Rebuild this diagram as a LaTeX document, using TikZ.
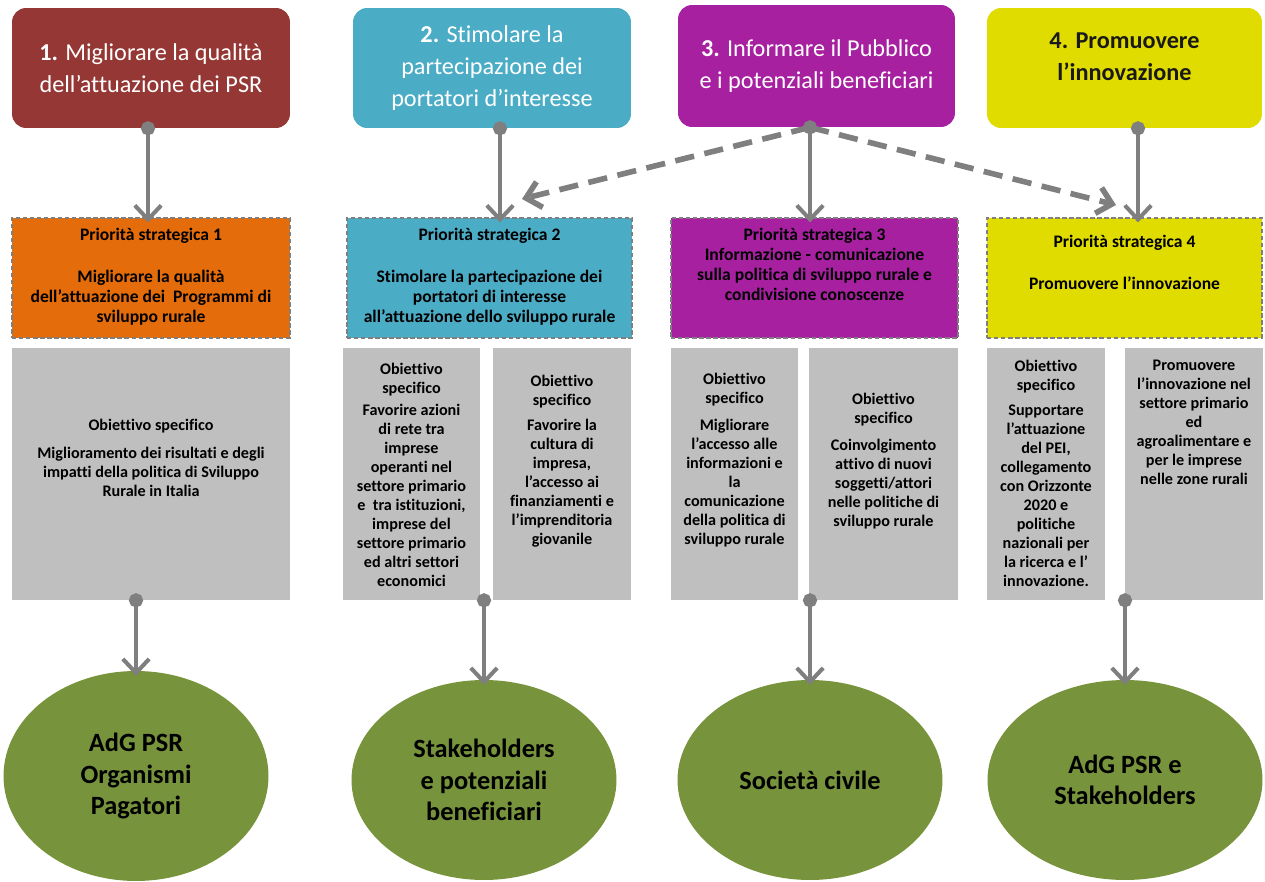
\documentclass[tikz,border=0pt]{standalone}
\usepackage{fontspec}
\setmainfont{Carlito}[Ligatures=NoCommon]
\usetikzlibrary{arrows.meta,shapes.geometric,calc}
\definecolor{adgred}{HTML}{953735}
\definecolor{aqua}{HTML}{4BACC6}
\definecolor{infopurple}{HTML}{A620A0}
\definecolor{innoyellow}{HTML}{E1DC00}
\definecolor{prioorange}{HTML}{E46C0A}
\definecolor{objgrey}{HTML}{BFBFBF}
\definecolor{linkgrey}{HTML}{7F7F7F}
\definecolor{targetgreen}{HTML}{77933C}

\begin{document}
\begin{tikzpicture}[x=0.02cm,y=-0.02cm,
	topbox/.style={rounded corners=8pt,minimum height=2.4cm,align=center,text=white,font=\fontsize{13.8}{18}\selectfont},
	prio/.style={draw=linkgrey,line width=1pt,dash pattern=on 2.5pt off 1.5pt,minimum height=2.4cm},
	priotext/.style={anchor=north,inner sep=0pt,align=center,font=\bfseries\fontsize{10}{11.3}\selectfont},
	obj/.style={fill=objgrey,minimum height=5.04cm},
	small/.style={anchor=north,inner sep=0pt,align=center,font=\bfseries\fontsize{9.2}{10.8}\selectfont},
	target/.style={ellipse,fill=targetgreen,inner sep=0pt,minimum width=5.3cm,minimum height=4cm,align=center,font=\bfseries\fontsize{15}{18}\selectfont},
	link/.style={draw=linkgrey,line width=2.3pt,shorten <=-4pt,shorten >=-3pt,{Circle[length=8pt]}-{Straight Barb[length=8pt,width=15pt]}},
	hint/.style={draw=linkgrey,line width=3.2pt,dash pattern=on 11pt off 6pt,-{Straight Barb[length=8pt,width=15pt]}}]
	\useasboundingbox (0,0) rectangle (1265,882);

	\node[topbox,fill=adgred,minimum width=5.56cm] (t1) at (151,68) {\textbf{1.} Migliorare la qualità\\dell’attuazione dei PSR};
	\node[topbox,fill=aqua,minimum width=5.56cm] (t2) at (492,68) {\textbf{2.} Stimolare la\\partecipazione dei\\portatori d’interesse};
	\node[topbox,fill=infopurple,minimum width=5.54cm,minimum height=2.44cm] (t3) at (816.5,66) {\textbf{3.} Informare il Pubblico\\e i potenziali beneficiari};
	\node[topbox,fill=innoyellow,minimum width=5.5cm] (t4) at (1124.5,68) {};
	\node[align=center,font=\bfseries\fontsize{13.8}{18}\selectfont,text=black!90] (t4t) at ($(t4.center)+(0,-11)$) {4. Promuovere\\l’innovazione};

	\node[prio,fill=prioorange,minimum width=5.56cm] (p1) at (151,278) {};
	\node[prio,fill=aqua,minimum width=5.7cm] (p2) at (489.5,278) {};
	\node[prio,fill=infopurple,minimum width=5.74cm] (p3) at (814.5,278) {};
	\node[prio,fill=innoyellow,minimum width=5.5cm] (p4) at (1124.5,278) {};
	\node[priotext] (p1t) at ($(p1.north)+(0,11)$) {Priorità strategica 1\\[12.5pt]Migliorare la qualità\\dell’attuazione dei~ Programmi di\\sviluppo rurale};
	\node[priotext] (p2t) at ($(p2.north)+(0,11)$) {Priorità strategica 2\\[12.5pt]Stimolare la partecipazione dei\\portatori di interesse\\all’attuazione dello sviluppo rurale};
	\node[priotext] (p3t) at ($(p3.north)+(0,11)$) {Priorità strategica 3\\Informazione - comunicazione\\sulla politica di sviluppo rurale e\\condivisione conoscenze};
	\node[priotext] (p4t) at ($(p4.north)+(0,18)$) {Priorità strategica 4\\[12.5pt]Promuovere l’innovazione};

	\node[obj,minimum width=5.56cm] (g1) at (151,474) {};
	\node[obj,minimum width=2.74cm] (g2a) at (411.5,474) {};
	\node[obj,minimum width=2.76cm] (g2b) at (562,474) {};
	\node[obj,minimum width=2.54cm] (g3a) at (734.5,474) {};
	\node[obj,minimum width=2.98cm] (g3b) at (883.5,474) {};
	\node[obj,minimum width=2.36cm] (g4a) at (1046,474) {};
	\node[obj,minimum width=2.76cm] (g4b) at (1194,474) {};
	\node[small] (g1t) at ($(g1.north)+(0,71)$) {Obiettivo specifico\\[5pt]Miglioramento dei risultati e degli\\impatti della politica di Sviluppo\\Rurale in Italia};
	\node[small] (g2at) at ($(g2a.north)+(0,15)$) {Obiettivo\\specifico\\[2pt]Favorire azioni\\di rete tra\\imprese\\operanti nel\\settore primario\\e~ tra istituzioni,\\imprese del\\settore primario\\ed altri settori\\economici};
	\node[small] (g2bt) at ($(g2b.north)+(0,27)$) {Obiettivo\\specifico\\[3.5pt]Favorire la\\cultura di\\impresa,\\l’accesso ai\\finanziamenti e\\l’imprenditoria\\giovanile};
	\node[small] (g3at) at ($(g3a.north)+(0,25)$) {Obiettivo\\specifico\\[4.5pt]Migliorare\\l’accesso alle\\informazioni e\\la\\comunicazione\\della politica di\\sviluppo rurale};
	\node[small] (g3bt) at ($(g3b.north)+(0,45)$) {Obiettivo\\specifico\\[4.5pt]Coinvolgimento\\attivo di nuovi\\soggetti/attori\\nelle politiche di\\sviluppo rurale};
	\node[small] (g4at) at ($(g4a.north)+(0,12)$) {Obiettivo\\specifico\\[3.5pt]Supportare\\l’attuazione\\del PEI,\\collegamento\\con Orizzonte\\2020 e\\politiche\\nazionali per\\la ricerca e l’\\innovazione.};
	\node[small] (g4bt) at ($(g4b.north)+(0,12)$) {Promuovere\\l’innovazione nel\\settore primario\\ed\\agroalimentare e\\per le imprese\\nelle zone rurali};

	\node[target,minimum height=4.2cm] (e1) at (136,776) {AdG PSR\\Organismi\\Pagatori};
	\node[target] (e2) at (484,780) {Stakeholders\\e potenziali\\beneficiari};
	\node[target] (e3) at (810,780) {Società civile};
	\node[target,minimum width=5.5cm] (e4) at (1125,780) {AdG PSR e\\Stakeholders};

	\draw[link] ($(t1.south)+(-3,0)$) coordinate (d1) -- (d1 |- p1.north);
	\draw[link] ($(t2.south)+(8,0)$) coordinate (d2) -- (d2 |- p2.north);
	\draw[link] ($(t3.south)+(-6.5,0)$) coordinate (d3) -- (d3 |- p3.north);
	\draw[link] ($(t4.south)+(13.5,0)$) coordinate (d4) -- (d4 |- p4.north);
	\coordinate (h2) at (522,199);
	\coordinate (h4) at (1116,205);
	\draw[hint] (d3) -- (h2);
	\draw[hint] (d3) -- (h4);

	\draw[link] (e1.north |- g1.south) -- (e1.north);
	\draw[link] (e2.north |- g2a.south) -- (e2.north);
	\draw[link] (e3.north |- g3a.south) -- (e3.north);
	\draw[link] (e4.north |- g4a.south) -- (e4.north);
\end{tikzpicture}
\end{document}
